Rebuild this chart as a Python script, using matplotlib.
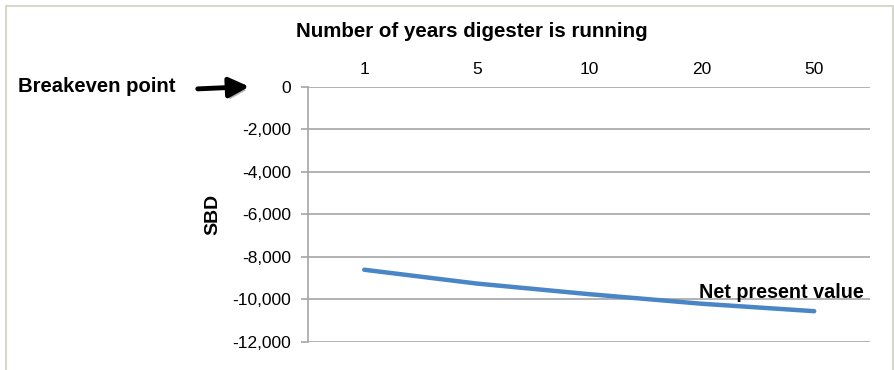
import matplotlib
matplotlib.use("Agg")
import matplotlib.pyplot as plt
import matplotlib.patheffects as pe
from matplotlib.patches import Rectangle, FancyArrowPatch
from matplotlib.ticker import FuncFormatter

years = ["1", "5", "10", "20", "50"]
npv = [-8600, -9250, -9750, -10200, -10550]
y_ticks = [0, -2000, -4000, -6000, -8000, -10000, -12000]

plt.rcParams["font.family"] = ["Liberation Sans", "DejaVu Sans"]

fig = plt.figure(figsize=(8.95, 3.70), dpi=100)
ax = fig.add_axes([0.3441, 0.0757, 0.6285, 0.6892])

x = list(range(len(years)))
ax.plot(x, npv, color="#4a86c5", linewidth=3.2, solid_capstyle="round", zorder=3)

ax.set_xlim(-0.5, len(years) - 0.5)
ax.set_ylim(-12000, 0)
ax.set_yticks(y_ticks)
ax.yaxis.set_major_formatter(FuncFormatter(lambda v, p: f"{int(v):,}"))
ax.grid(axis="y", color="#a6a6a6", linewidth=1.2, zorder=1)
ax.set_axisbelow(True)

ax.xaxis.tick_top()
ax.set_xticks(x)
ax.set_xticklabels(years)
ax.tick_params(axis="x", length=0, pad=7, labelsize=12.5)
ax.tick_params(axis="y", length=5, width=1.2, color="#a6a6a6", pad=7, labelsize=12.5)

for side in ["top", "right", "bottom"]:
    ax.spines[side].set_visible(False)
ax.spines["left"].set_color("#a6a6a6")
ax.spines["left"].set_linewidth(1.2)

ax.set_ylabel("SBD", fontsize=14, fontweight="bold", labelpad=8)

fig.text(0.5274, 0.916, "Number of years digester is running",
         ha="center", va="center", fontsize=14.8, fontweight="bold")

ax.text(3.71, -9650, "Net present value", ha="center", va="center",
        fontsize=14.2, fontweight="bold", zorder=4)

fig.text(0.02, 0.767, "Breakeven point", ha="left", va="center",
         fontsize=14.6, fontweight="bold")
fig.patches.append(FancyArrowPatch(
    (195 / 895, 1 - 89 / 370), (252 / 895, 1 - 86.5 / 370),
    transform=fig.transFigure, arrowstyle="-|>,head_length=12,head_width=6",
    mutation_scale=1, color="black", linewidth=3.5,
    path_effects=[pe.SimplePatchShadow(offset=(1.5, -2.5), alpha=0.3), pe.Normal()]))

fig.patches.append(Rectangle((6 / 895, -0.1), (893 - 6) / 895, 1.1 - 6 / 370,
                             transform=fig.transFigure, fill=False,
                             edgecolor="#d6d6cc", linewidth=1.5))

fig.savefig("out.png", dpi=100)
